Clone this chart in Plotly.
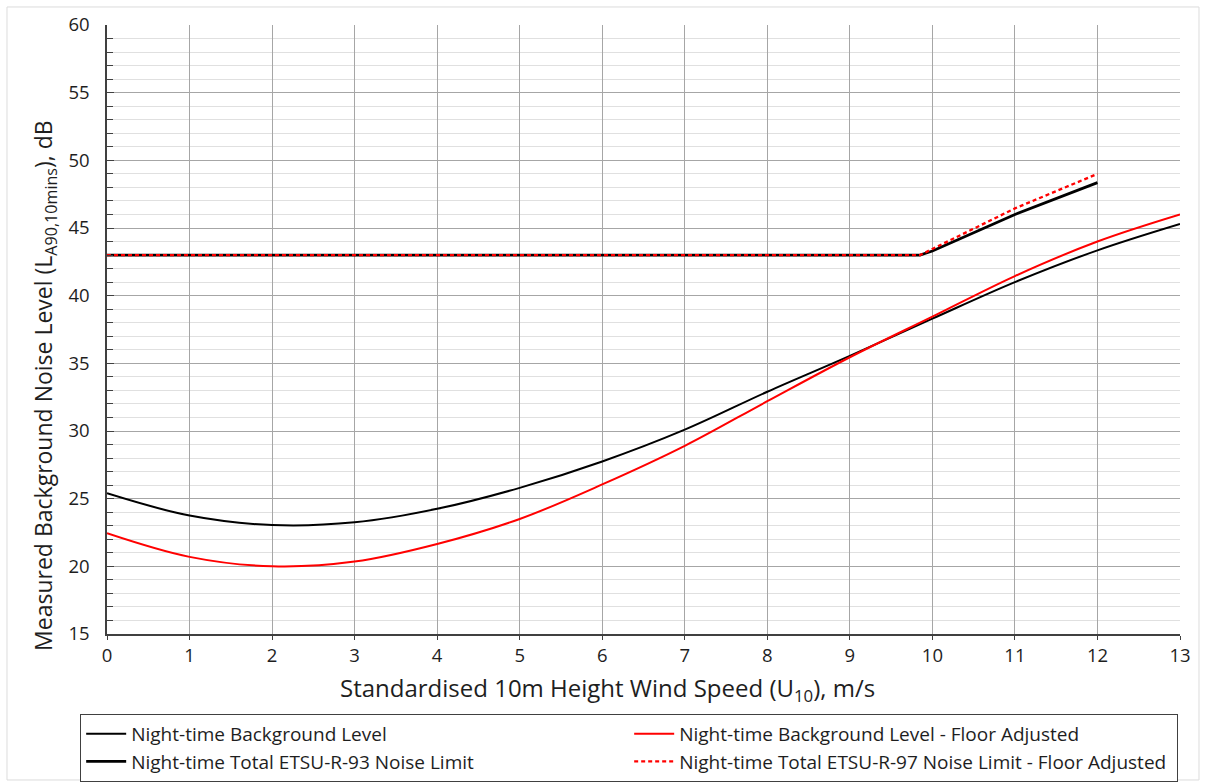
import plotly.graph_objects as go

# Standardised 10 m wind speed, m/s
wind_speed = [0, 1, 2, 3, 4, 5, 6, 7, 8, 9, 10, 11, 12, 13]

# Night-time background noise levels, dB LA90,10min
bg_level = [25.4, 23.75, 23.05, 23.25, 24.25, 25.8, 27.75, 30.1, 32.9, 35.55, 38.3, 41.0, 43.35, 45.3]
bg_floor_adj = [22.45, 20.7, 20.0, 20.35, 21.65, 23.5, 26.05, 28.9, 32.2, 35.45, 38.45, 41.45, 44.0, 46.0]

# Night-time total noise limits (flat 43 dB floor, then rising)
limit_speed = [0, 1, 2, 3, 4, 5, 6, 7, 8, 9, 9.85, 10, 11, 12]
limit_etsu93 = [43, 43, 43, 43, 43, 43, 43, 43, 43, 43, 43, 43.3, 46.0, 48.35]
limit_etsu97_floor = [43, 43, 43, 43, 43, 43, 43, 43, 43, 43, 43, 43.45, 46.45, 49.0]

x_ticks = list(range(0, 14))
y_ticks = list(range(15, 61, 5))

X_TITLE = "Standardised 10m Height Wind Speed (U<sub>10</sub>), m/s"
Y_TITLE = "Measured Background Noise Level (L<sub>A90,10mins</sub>), dB"

FONT = "Open Sans"
TXT = "#1e1e1e"

fig = go.Figure()
fig.add_trace(go.Scatter(
    x=wind_speed, y=bg_level, mode="lines",
    line=dict(color="black", width=2, shape="spline", smoothing=1.0),
    name="Night-time Background Level"))
fig.add_trace(go.Scatter(
    x=wind_speed, y=bg_floor_adj, mode="lines",
    line=dict(color="#ff0000", width=2, shape="spline", smoothing=1.0),
    name="Night-time Background Level - Floor Adjusted"))
fig.add_trace(go.Scatter(
    x=limit_speed, y=limit_etsu93, mode="lines",
    line=dict(color="black", width=2.8),
    name="Night-time Total ETSU-R-93 Noise Limit"))
fig.add_trace(go.Scatter(
    x=limit_speed, y=limit_etsu97_floor, mode="lines",
    line=dict(color="#ff0000", width=2.3, dash="4px,3px"),
    name="Night-time Total ETSU-R-97 Noise Limit - Floor Adjusted"))

fig.update_xaxes(
    range=[0, 13], tickvals=x_ticks, ticktext=[str(v) for v in x_ticks],
    showgrid=True, gridcolor="#a6a6a6", gridwidth=1.3,
    showline=True, linecolor="#404040", linewidth=1.5,
    ticks="outside", ticklen=4, tickcolor="#404040",
    zeroline=False,
    tickfont=dict(family=FONT, size=18.5, color=TXT),
)
fig.update_yaxes(
    range=[15, 60], tickvals=y_ticks, ticktext=[str(v) for v in y_ticks],
    showgrid=True, gridcolor="#a6a6a6", gridwidth=1.3,
    showline=True, linecolor="#404040", linewidth=1.5,
    ticks="inside", ticklen=7, tickcolor="#404040",
    zeroline=False, ticklabelstandoff=12,
    minor=dict(dtick=1, showgrid=True, gridcolor="#e0e0e0", gridwidth=1,
               ticks="inside", ticklen=6, tickcolor="#404040"),
    tickfont=dict(family=FONT, size=18.5, color=TXT),
)

fig.update_layout(
    width=1206, height=783,
    margin=dict(l=107, r=26, t=25, b=149, autoexpand=False),
    plot_bgcolor="white", paper_bgcolor="white",
    font=dict(family=FONT, color=TXT),
    legend=dict(
        orientation="h", x=-0.025, xanchor="left", y=-0.131, yanchor="top",
        entrywidth=493, entrywidthmode="pixels",
        bordercolor="#404040", borderwidth=1, bgcolor="white",
        font=dict(family=FONT, size=19, color=TXT),
        tracegroupgap=0, itemwidth=40,
    ),
    annotations=[
        dict(text=X_TITLE, xref="paper", yref="paper", x=0.466, y=-0.0903,
             xanchor="center", yanchor="middle", showarrow=False,
             font=dict(family=FONT, size=24, color=TXT)),
        dict(text=Y_TITLE, xref="paper", yref="paper", x=-0.0578, y=0.409,
             xanchor="center", yanchor="middle", textangle=-90, showarrow=False,
             font=dict(family=FONT, size=23, color=TXT)),
    ],
    shapes=[dict(type="rect", xref="paper", yref="paper",
                 x0=-0.0932, x1=1.0177, y0=-0.2397, y1=1.0296,
                 line=dict(color="#dcdcdc", width=1), layer="below")],
)

fig.write_html("out.html")
